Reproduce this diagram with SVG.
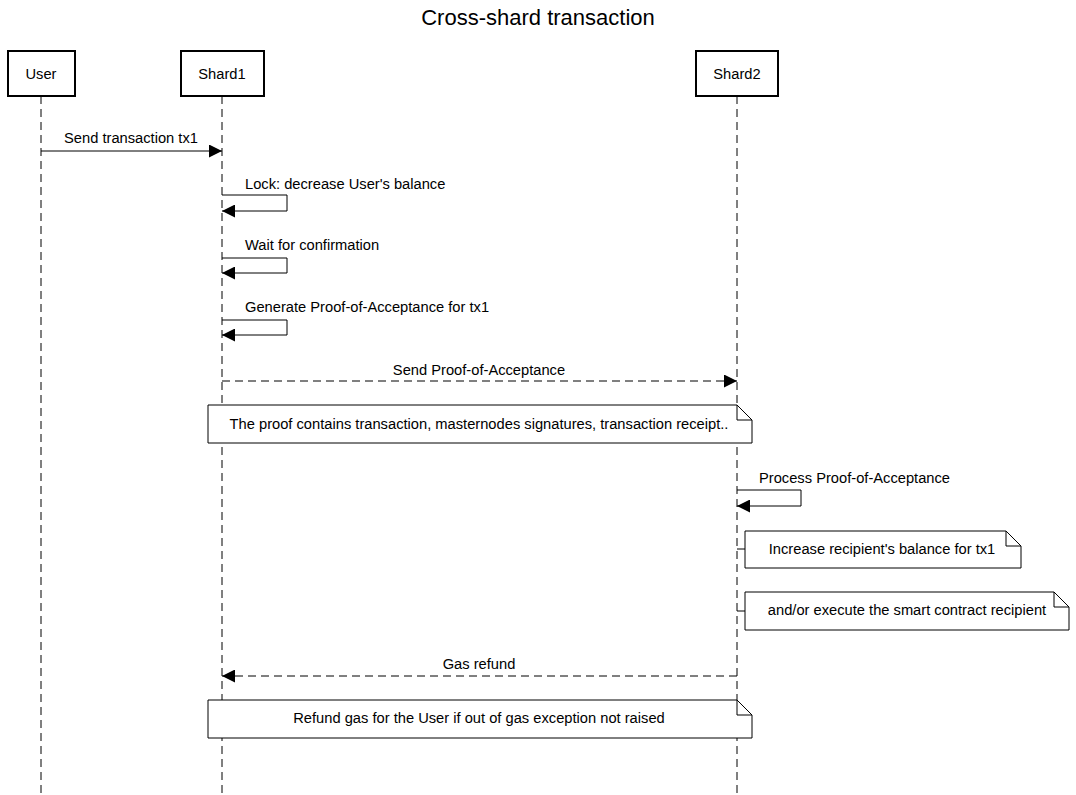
<svg xmlns="http://www.w3.org/2000/svg" width="1076" height="795" viewBox="0 0 1076 795">
<style>
text{font-family:"Liberation Sans",Arial,sans-serif;font-size:14.7px;fill:#000}
.title{font-size:22px}
.actor{fill:#fff;stroke:#000;stroke-width:2}
.life{stroke:#000;stroke-width:1;stroke-dasharray:8,5;fill:none}
.msg{stroke:#000;stroke-width:1;fill:none}
.dash{stroke-dasharray:8,5}
.note{fill:#fff;stroke:#000;stroke-width:1}
.fold{fill:none;stroke:#000;stroke-width:1}
</style>
<defs>
<marker id="ah" viewBox="0 0 12 12" refX="12" refY="6" markerWidth="13" markerHeight="13" markerUnits="userSpaceOnUse" orient="auto">
<path d="M0,0 L12,6 L0,12 Z" fill="#000"/>
</marker>
</defs>
<rect width="1076" height="795" fill="#fff"/>
<text class="title" x="538" y="25" text-anchor="middle">Cross-shard transaction</text>

<g id="lifelines">
<line class="life" x1="41" y1="96" x2="41" y2="795"/>
<line class="life" x1="222" y1="96" x2="222" y2="795"/>
<line class="life" x1="737" y1="96" x2="737" y2="795"/>
</g>

<g id="User">
<rect class="actor" x="8" y="51" width="67" height="45"/>
<text x="41" y="79" text-anchor="middle">User</text>
</g>
<g id="Shard1">
<rect class="actor" x="181" y="51" width="83" height="45"/>
<text x="222" y="79" text-anchor="middle">Shard1</text>
</g>
<g id="Shard2">
<rect class="actor" x="696" y="51" width="82" height="45"/>
<text x="737" y="79" text-anchor="middle">Shard2</text>
</g>

<g id="connectors">
<line class="msg" x1="41" y1="151" x2="222" y2="151" marker-end="url(#ah)"/>
<text x="131" y="143" text-anchor="middle">Send transaction tx1</text>

<path class="msg" d="M222,195 H287 V211 H222" marker-end="url(#ah)"/>
<text x="245" y="189">Lock: decrease User's balance</text>

<path class="msg" d="M222,258 H287 V273 H222" marker-end="url(#ah)"/>
<text x="245" y="250">Wait for confirmation</text>

<path class="msg" d="M222,320 H287 V335 H222" marker-end="url(#ah)"/>
<text x="245" y="312">Generate Proof-of-Acceptance for tx1</text>

<line class="msg dash" x1="222" y1="381" x2="737" y2="381" marker-end="url(#ah)"/>
<text x="479" y="375" text-anchor="middle">Send Proof-of-Acceptance</text>

<path class="msg" d="M737,490 H801 V506 H737" marker-end="url(#ah)"/>
<text x="759" y="483">Process Proof-of-Acceptance</text>

<line class="msg" x1="737" y1="549" x2="745" y2="549"/>
<line class="msg" x1="737" y1="611" x2="745" y2="611"/>

<line class="msg dash" x1="737" y1="676" x2="222" y2="676" marker-end="url(#ah)"/>
<text x="479" y="669" text-anchor="middle">Gas refund</text>
</g>

<g id="note1">
<path class="note" d="M208,405 H737 L752,420 V443 H208 Z"/>
<path class="fold" d="M737,405 V420 H752"/>
<text x="479" y="429" text-anchor="middle">The proof contains transaction, masternodes signatures, transaction receipt..</text>
</g>
<g id="note2">
<path class="note" d="M745,531 H1006 L1021,546 V568 H745 Z"/>
<path class="fold" d="M1006,531 V546 H1021"/>
<text x="882" y="554" text-anchor="middle">Increase recipient's balance for tx1</text>
</g>
<g id="note3">
<path class="note" d="M745,592 H1054 L1069,607 V630 H745 Z"/>
<path class="fold" d="M1054,592 V607 H1069"/>
<text x="907" y="615" text-anchor="middle">and/or execute the smart contract recipient</text>
</g>
<g id="note4">
<path class="note" d="M208,700 H737 L752,715 V738 H208 Z"/>
<path class="fold" d="M737,700 V715 H752"/>
<text x="479" y="723" text-anchor="middle">Refund gas for the User if out of gas exception not raised</text>
</g>
</svg>
